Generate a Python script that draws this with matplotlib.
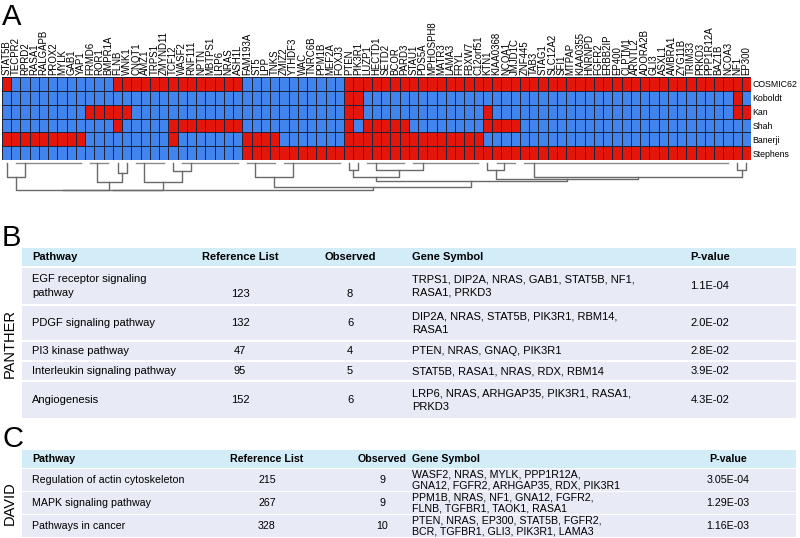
import matplotlib
matplotlib.use('Agg')
import matplotlib.pyplot as plt
from matplotlib.colors import ListedColormap
from matplotlib.patches import Rectangle
import numpy as np

plt.rcParams['font.family'] = ['Liberation Sans', 'DejaVu Sans']

# ---------------- panel A data ----------------
genes = ['STAT5B', 'TECPR2', 'RPRD2', 'RASA1', 'RALGAPB', 'PROX2', 'MYLK', 'GAB1', 'YAP1',
         'FRMD6', 'ROR1', 'BMPR1A', 'FLNB', 'WNK1', 'CNOT1', 'AMZ1', 'TRPS1', 'ZMYND11',
         'TCF12', 'WASF2', 'RNF111', 'NPTN', 'MBTPS1', 'LRP6', 'NRAS', 'ASH1L', 'FAM193A',
         'ST5', 'LPP', 'TNKS', 'ZMIZ2', 'YTHDF3', 'WAC', 'TNRC6B', 'PPM1B', 'MEF2A', 'FOXJ3',
         'PTEN', 'PIK3R1', 'LUZP1', 'HECTD1', 'SETD2', 'BCOR', 'PARD3', 'STAU1', 'PDS5A',
         'MPHOSPH8', 'MATR3', 'LAMA3', 'FRYL', 'FBXW7', 'C12orf51', 'KTN1', 'KIAA0368',
         'NCOA1', 'JMJD1C', 'ZNF445', 'TAB3', 'STAG1', 'SLC12A2', 'SFI1', 'MTPAP',
         'KIAA0355', 'HNRNPD', 'FGFR2', 'ERBB2IP', 'EP400', 'CLPTM1', 'ARNTL2', 'ADORA2B',
         'GLI3', 'ASXL1', 'AMBRA1', 'ZYG11B', 'TRIM33', 'PRKD3', 'PPP1R12A', 'BAZ1B',
         'NCOA3', 'NF1', 'EP300']
datasets = ['COSMIC62', 'Koboldt', 'Kan', 'Shah', 'Banerji', 'Stephens']

# runs of genes reported (red) in each dataset: (first gene, last gene)
cosmic62 = [('STAT5B', 'STAT5B'), ('FLNB', 'ASH1L'), ('PTEN', 'EP300')]
koboldt = [('PTEN', 'PIK3R1'), ('NF1', 'NF1')]
kan = [('FRMD6', 'WNK1'), ('PTEN', 'PIK3R1'), ('KTN1', 'KTN1'), ('NF1', 'EP300')]
shah = [('FLNB', 'FLNB'), ('TCF12', 'ASH1L'), ('PTEN', 'PTEN'), ('LUZP1', 'PARD3'),
        ('KTN1', 'JMJD1C')]
banerji = [('STAT5B', 'YAP1'), ('TCF12', 'TCF12'), ('FAM193A', 'TNKS'), ('PTEN', 'C12orf51')]
stephens = [('FAM193A', 'EP300')]
runs = [cosmic62, koboldt, kan, shah, banerji, stephens]

# dendrogram links between groups of identical columns (left node, right node, height)
links = [[0, 1, 1.9], [3, 4, 1.35], [2, 20, 2.5], [6, 7, 1.1], [5, 22, 2.5],
         [8, 9, 1.9], [10, 11, 0.9], [12, 13, 1.0], [25, 26, 1.9], [14, 15, 1.0],
         [17, 18, 1.0], [16, 29, 1.9], [28, 30, 2.15], [27, 31, 2.45], [24, 32, 3.2],
         [19, 21, 3.7], [34, 23, 3.7], [35, 33, 3.7]]

# ---------------- panel B / C data ----------------
table_header = ['Pathway', 'Reference List', 'Observed', 'Gene Symbol', 'P-value']

panther_pathway = ['EGF receptor signaling\npathway', 'PDGF signaling pathway',
                   'PI3 kinase pathway', 'Interleukin signaling pathway', 'Angiogenesis']
panther_ref = [123, 132, 47, 95, 152]
panther_obs = [8, 6, 4, 5, 6]
panther_genes = ['TRPS1, DIP2A, NRAS, GAB1, STAT5B, NF1,\nRASA1, PRKD3',
                 'DIP2A, NRAS, STAT5B, PIK3R1, RBM14,\nRASA1',
                 'PTEN, NRAS, GNAQ, PIK3R1',
                 'STAT5B, RASA1, NRAS, RDX, RBM14',
                 'LRP6, NRAS, ARHGAP35, PIK3R1, RASA1,\nPRKD3']
panther_p = ['1.1E-04', '2.0E-02', '2.8E-02', '3.9E-02', '4.3E-02']

david_pathway = ['Regulation of actin cytoskeleton', 'MAPK signaling pathway', 'Pathways in cancer']
david_ref = [215, 267, 328]
david_obs = [9, 9, 10]
david_genes = ['WASF2, NRAS, MYLK, PPP1R12A,\nGNA12, FGFR2, ARHGAP35, RDX, PIK3R1',
               'PPM1B, NRAS, NF1, GNA12, FGFR2,\nFLNB, TGFBR1, TAOK1, RASA1',
               'PTEN, NRAS, EP300, STAT5B, FGFR2,\nBCR, TGFBR1, GLI3, PIK3R1, LAMA3']
david_p = ['3.05E-04', '1.29E-03', '1.16E-03']

RED = '#e4160c'
BLUE = '#4284ee'
HEAD_BG = '#d2ecf8'
ROW_BG = '#e8eaf5'
DCOL = '#6a6a6a'

W, H = 800, 538
fig = plt.figure(figsize=(W / 100, H / 100), dpi=100)

# ---------------- heatmap ----------------
n = len(genes)
mat = np.zeros((len(datasets), n))
for i, spans in enumerate(runs):
    for a, b in spans:
        mat[i, genes.index(a):genes.index(b) + 1] = 1

axh = fig.add_axes([2 / W, 1 - 160 / H, 749 / W, 83 / H])
axh.pcolormesh(np.arange(n + 1), np.arange(len(datasets) + 1), mat,
               cmap=ListedColormap([BLUE, RED]), edgecolors='#1d2338', linewidth=0.6)
axh.set_xlim(0, n)
axh.set_ylim(len(datasets), 0)
axh.set_xticks(np.arange(n) + 0.5)
axh.set_xticklabels(genes, rotation=90, fontsize=6.9)
axh.xaxis.tick_top()
axh.set_yticks(np.arange(len(datasets)) + 0.5)
axh.set_yticklabels(datasets, fontsize=6.3)
axh.yaxis.tick_right()
axh.tick_params(axis='x', length=0, pad=1.5)
axh.tick_params(axis='y', length=0, pad=1)
for s in axh.spines.values():
    s.set_visible(False)

# ---------------- dendrogram ----------------
axd = fig.add_axes([2 / W, 1 - 193 / H, 749 / W, 32 / H])
groups = []
start = 0
for j in range(1, n + 1):
    if j == n or not np.array_equal(mat[:, j], mat[:, start]):
        groups.append((start, j - 1))
        start = j

xs, hs = [], []
for a, b in groups:
    x = b + 0.5
    for c in range(b - 1, a - 1, -1):
        x = (c + 0.5 + x) / 2
    if b > a:
        axd.plot([a + 0.5, b + 0.5], [0, 0], color='#8a8a8a', lw=1)
    xs.append(x)
    hs.append(0.0)
for l, r, h in links:
    axd.plot([xs[l], xs[l], xs[r], xs[r]], [hs[l], h, h, hs[r]], color=DCOL, lw=1)
    xs.append((xs[l] + xs[r]) / 2)
    hs.append(h)
axd.set_xlim(0, n)
axd.set_ylim(4.04, -0.27)
axd.axis('off')

# ---------------- tables ----------------
ov = fig.add_axes([0, 0, 1, 1])
ov.set_xlim(0, W)
ov.set_ylim(H, 0)
ov.axis('off')


def draw_table(top, row_h, col_x, col_ha, rows, side, fs, ls, gap=2, head_h=18):
    x0, x1 = 22, 796
    ov.add_patch(Rectangle((x0, top), x1 - x0, head_h, fc=HEAD_BG, ec='none'))
    for xx, ha, lab in zip(col_x, col_ha, table_header):
        ov.text(xx, top + head_h / 2, lab, ha=ha, va='center', fontsize=fs, fontweight='bold')
    line_px = fs * 100 / 72 * ls
    y = top + head_h + gap
    for cells, rh in zip(rows, row_h):
        ov.add_patch(Rectangle((x0, y), x1 - x0, rh, fc=ROW_BG, ec='none'))
        two_line_name = '\n' in cells[0]
        for k, (xx, ha, val) in enumerate(zip(col_x, col_ha, cells)):
            yy = y + rh / 2
            if two_line_name and k in (1, 2):
                yy += line_px / 2
            ov.text(xx, yy, str(val), ha=ha, va='center', fontsize=fs, linespacing=ls)
        y += rh + gap
    ov.text(10, (top + head_h + y) / 2, side, rotation=90, ha='center', va='center',
            fontsize=10.5)


draw_table(248, [36, 34, 18, 18, 36], [32, 240, 350, 412, 710],
           ['left', 'center', 'center', 'left', 'center'],
           list(zip(panther_pathway, panther_ref, panther_obs, panther_genes, panther_p)),
           'PANTHER', fs=8.0, ls=1.45)
draw_table(450, [22, 22, 22], [32, 267, 382, 412, 728],
           ['left', 'center', 'center', 'left', 'center'],
           list(zip(david_pathway, david_ref, david_obs, david_genes, david_p)),
           'DAVID', fs=7.7, ls=1.08, gap=1)

for lab, yy in zip(['A', 'B', 'C'], [3, 224, 425]):
    ov.text(2, yy, lab, ha='left', va='top', fontsize=21)

fig.savefig('out.png', dpi=100)
